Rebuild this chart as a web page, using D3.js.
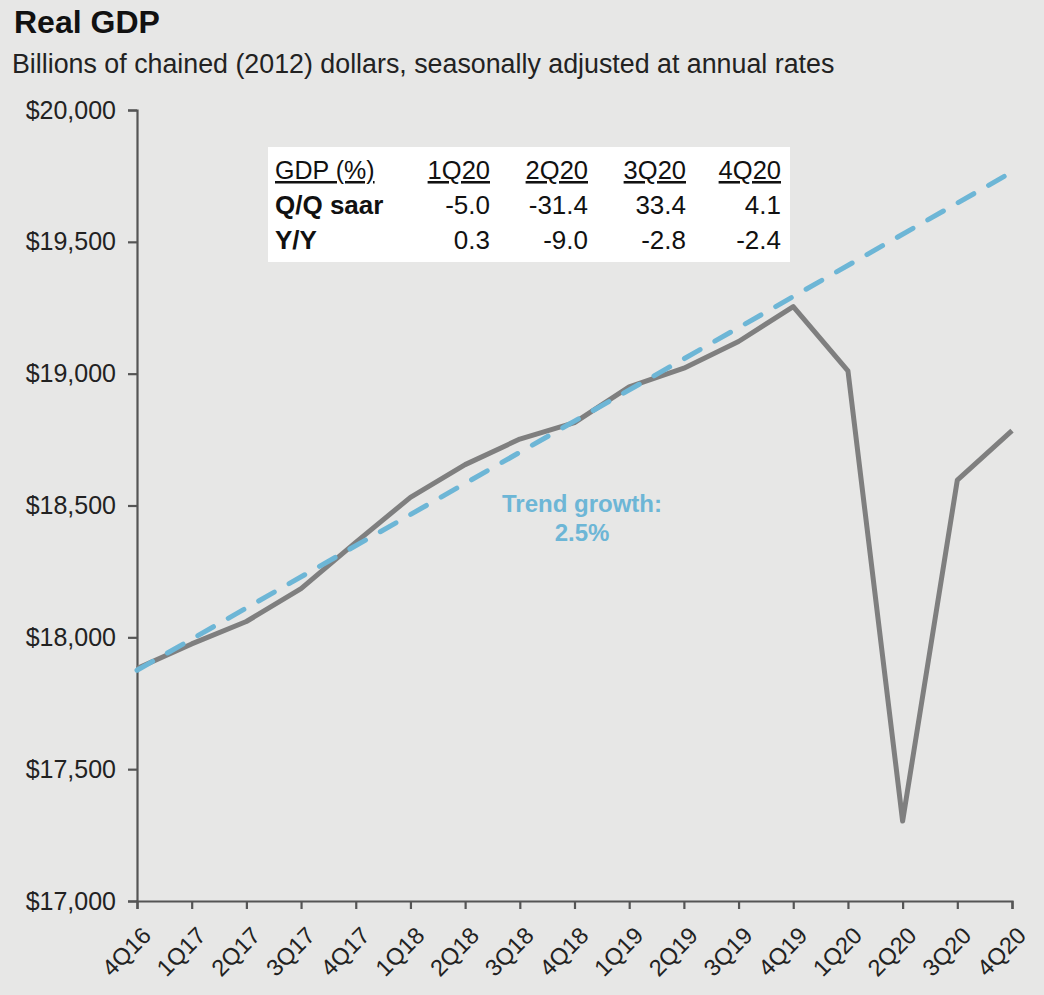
<!DOCTYPE html>
<html><head><meta charset="utf-8">
<script src="https://cdn.jsdelivr.net/npm/d3@7"></script>
<style>
body{margin:0;background:#e7e7e6;}
svg{display:block;font-family:"Liberation Sans",Arial,sans-serif;}
</style>
</head><body>
<svg id="c" width="1044" height="995"></svg>
<script>
// ---- data ----
const quarters = ["4Q16","1Q17","2Q17","3Q17","4Q17","1Q18","2Q18","3Q18","4Q18","1Q19","2Q19","3Q19","4Q19","1Q20","2Q20","3Q20","4Q20"];
const gdp = [17882,17975,18060,18185,18360,18531,18655,18752,18814,18950,19021,19122,19254,19011,17303,18596,18784];
const trendQuarters = ["4Q16","4Q20"];
const trendValues = [17875,19765];
const yTicks = [17000,17500,18000,18500,19000,19500,20000];
const tableHeader = ["GDP (%)","1Q20","2Q20","3Q20","4Q20"];
const tableRowLabels = ["Q/Q saar","Y/Y"];
const qoqSaar = ["-5.0","-31.4","33.4","4.1"];
const yoy = ["0.3","-9.0","-2.8","-2.4"];
const titleText = "Real GDP";
const subtitleText = "Billions of chained (2012) dollars, seasonally adjusted at annual rates";
const trendLabel = ["Trend growth:","2.5%"];

// ---- layout ----
const svg = d3.select("#c");
const X0 = 137, X1 = 1012, Y0 = 901, Y1 = 110;
const x = d3.scalePoint().domain(quarters).range([X0, X1]);
const y = d3.scaleLinear().domain([17000, 20000]).range([Y0, Y1]);
const axisColor = "#555";
const grayLine = "#7f7f7f";
const blue = "#6db6d6";

svg.append("rect").attr("width",1044).attr("height",995).attr("fill","#e7e7e6");

svg.append("text").attr("x",14).attr("y",33).attr("font-size",32).attr("font-weight","bold")
  .attr("fill","#111").text(titleText);
svg.append("text").attr("x",12).attr("y",73).attr("font-size",26.8)
  .attr("fill","#222").text(subtitleText);

// y axis
const yAxis = svg.append("g").attr("transform",`translate(${X0},0)`)
  .call(d3.axisLeft(y).tickValues(yTicks).tickSize(9).tickPadding(12)
        .tickFormat(d => "$" + d3.format(",")(d)));
yAxis.selectAll("path,line").attr("stroke",axisColor).attr("stroke-width",2.2);
yAxis.selectAll("text").attr("font-size",25).attr("fill","#222")
  .attr("font-family","'Liberation Sans',Arial,sans-serif");

// x axis
const xAxis = svg.append("g").attr("transform",`translate(0,${Y0})`)
  .call(d3.axisBottom(x).tickSize(8).tickSizeOuter(8));
xAxis.selectAll("path,line").attr("stroke",axisColor).attr("stroke-width",2.2);
xAxis.selectAll("text")
  .attr("font-size",23.5).attr("fill","#222")
  .attr("font-family","'Liberation Sans',Arial,sans-serif")
  .attr("text-anchor","end")
  .attr("y",0).attr("dy",0)
  .attr("transform","translate(15,36) rotate(-45)");

// table
const tb = svg.append("g");
tb.append("rect").attr("x",268).attr("y",147).attr("width",522).attr("height",115).attr("fill","#ffffff");
const colRight = [490, 588, 686, 781];
const rowBase = [179, 214, 249];
tb.append("text").attr("x",275).attr("y",rowBase[0]).attr("font-size",25).attr("fill","#111")
  .attr("text-decoration","underline").text(tableHeader[0]);
tableHeader.slice(1).forEach((h,i)=>{
  tb.append("text").attr("x",colRight[i]).attr("y",rowBase[0]).attr("font-size",25.5)
    .attr("text-anchor","end").attr("fill","#111").attr("text-decoration","underline").text(h);
});
[qoqSaar, yoy].forEach((row,r)=>{
  tb.append("text").attr("x",275).attr("y",rowBase[r+1]).attr("font-size",26)
    .attr("font-weight","bold").attr("fill","#111").text(tableRowLabels[r]);
  row.forEach((v,i)=>{
    tb.append("text").attr("x",colRight[i]).attr("y",rowBase[r+1]).attr("font-size",26)
      .attr("text-anchor","end").attr("fill","#111").text(v);
  });
});

// GDP line
const line = d3.line().x((d,i)=>x(quarters[i])).y(d=>y(d));
svg.append("path").datum(gdp).attr("d",line).attr("fill","none")
  .attr("stroke",grayLine).attr("stroke-width",5).attr("stroke-linejoin","round");

// trend line
const tline = d3.line().x((d,i)=>x(trendQuarters[i])).y(d=>y(d));
svg.append("path").datum(trendValues).attr("d",tline).attr("fill","none")
  .attr("stroke",blue).attr("stroke-width",5).attr("stroke-dasharray","18,17")
  .attr("stroke-linecap","round");

// trend label
const tl = svg.append("text").attr("text-anchor","middle").attr("font-size",24)
  .attr("font-weight","bold").attr("fill",blue);
tl.append("tspan").attr("x",582).attr("y",512).text(trendLabel[0]);
tl.append("tspan").attr("x",582).attr("y",541).text(trendLabel[1]);
</script>
</body></html>
